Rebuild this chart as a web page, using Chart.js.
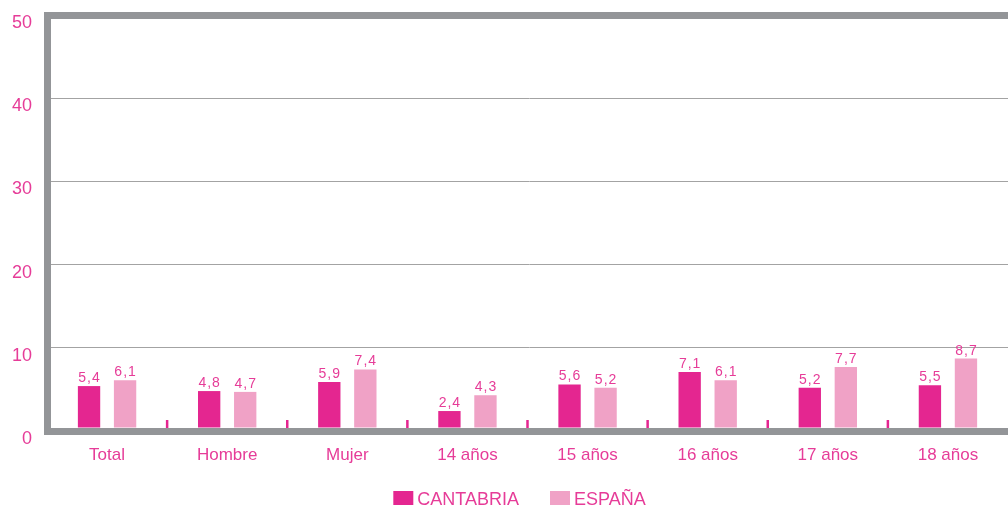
<!DOCTYPE html>
<html>
<head>
<meta charset="utf-8">
<script src="https://cdn.jsdelivr.net/npm/chart.js@4/dist/chart.umd.min.js"></script>
<style>
  html, body { margin: 0; padding: 0; background: #ffffff; }
  #wrap { width: 1008px; height: 506px; }
</style>
</head>
<body>
<div id="wrap"><canvas id="c" width="1008" height="506"></canvas></div>
<script>
const categories = ['Total', 'Hombre', 'Mujer', '14 años', '15 años', '16 años', '17 años', '18 años'];
const seriesNames = ['CANTABRIA', 'ESPAÑA'];
const cantabria = [5.4, 4.8, 5.9, 2.4, 5.6, 7.1, 5.2, 5.5];
const espana = [6.1, 4.7, 7.4, 4.3, 5.2, 6.1, 7.7, 8.7];
const yTicks = [0, 10, 20, 30, 40, 50];

const PINK_TEXT = '#E63C98';
const COL_CANT = '#E42690';
const COL_ESP = '#F0A2C6';
const GRAY = '#939598';
const FONT = 'Liberation Sans, Arial, sans-serif';

const fmt = v => v.toFixed(1).replace('.', ',');

const valueLabels = {
  id: 'valueLabels',
  afterDatasetsDraw(chart) {
    const ctx = chart.ctx;
    ctx.save();
    ctx.font = '14px ' + FONT;
    ctx.fillStyle = PINK_TEXT;
    ctx.textAlign = 'center';
    ctx.textBaseline = 'alphabetic';
    try { ctx.letterSpacing = '1px'; } catch (e) {}
    chart.data.datasets.forEach((ds, di) => {
      const meta = chart.getDatasetMeta(di);
      meta.data.forEach((bar, i) => {
        ctx.fillText(fmt(ds.data[i]), bar.x + 0.5, bar.y - 4);
      });
    });
    ctx.restore();
  }
};

const catTicks = {
  id: 'catTicks',
  beforeDatasetsDraw(chart) {
    const x = chart.scales.x;
    const ctx = chart.ctx;
    const bottom = chart.chartArea.bottom;
    ctx.save();
    ctx.strokeStyle = COL_CANT;
    ctx.lineWidth = 2.5;
    for (let i = 0; i < categories.length - 1; i++) {
      const px = (x.getPixelForValue(i) + x.getPixelForValue(i + 1)) / 2;
      ctx.beginPath();
      ctx.moveTo(px, bottom - 11);
      ctx.lineTo(px, bottom - 3);
      ctx.stroke();
    }
    ctx.restore();
  }
};

const customLegend = {
  id: 'customLegend',
  afterDraw(chart) {
    const ctx = chart.ctx;
    ctx.save();
    ctx.font = '18px ' + FONT;
    const boxW = 20, boxH = 14, textGap = 4, itemGap = 31;
    const items = chart.data.datasets.map(ds => ({
      label: ds.label, color: ds.backgroundColor, w: boxW + textGap + ctx.measureText(ds.label).width
    }));
    const total = items.reduce((s, it) => s + it.w, 0) + itemGap * (items.length - 1);
    const center = (chart.chartArea.left + chart.chartArea.right) / 2 - 8;
    let x = center - total / 2;
    const boxY = 491;
    items.forEach(it => {
      ctx.fillStyle = it.color;
      ctx.fillRect(x, boxY, boxW, boxH);
      ctx.fillStyle = PINK_TEXT;
      ctx.textAlign = 'left';
      ctx.textBaseline = 'alphabetic';
      ctx.fillText(it.label, x + boxW + textGap, 505);
      x += it.w + itemGap;
    });
    ctx.restore();
  }
};

new Chart(document.getElementById('c'), {
  type: 'bar',
  data: {
    labels: categories,
    datasets: [
      { label: seriesNames[0], data: cantabria, backgroundColor: COL_CANT, borderWidth: 0,
        categoryPercentage: 0.6, barPercentage: 0.62 },
      { label: seriesNames[1], data: espana, backgroundColor: COL_ESP, borderWidth: 0,
        categoryPercentage: 0.6, barPercentage: 0.62 }
    ]
  },
  options: {
    responsive: false,
    animation: false,
    layout: { padding: { top: 15, left: 0, right: 0, bottom: 0 } },
    plugins: {
      legend: { display: false },
      tooltip: { enabled: false }
    },
    scales: {
      x: {
        grid: { display: false },
        border: { display: true, width: 7, color: GRAY },
        ticks: {
          color: PINK_TEXT,
          font: { family: FONT, size: 17 },
          padding: 6,
          maxRotation: 0
        },
        afterFit(scale) { scale.height = 75; scale.paddingLeft = 0; scale.paddingRight = 0; }
      },
      y: {
        min: yTicks[0],
        max: yTicks[yTicks.length - 1],
        afterBuildTicks(scale) { scale.ticks = yTicks.map(v => ({ value: v })); },
        grid: {
          drawTicks: false,
          color: ctx => (ctx.tick && (ctx.tick.value === 0 || ctx.tick.value === 50)) ? GRAY : '#a3a3a3',
          lineWidth: ctx => (ctx.tick && (ctx.tick.value === 0 || ctx.tick.value === 50)) ? 7 : 1
        },
        border: { display: true, width: 7, color: GRAY },
        ticks: {
          color: PINK_TEXT,
          font: { family: FONT, size: 18 },
          padding: 15,
          labelOffset: 8
        },
        afterFit(scale) { scale.width = 47; scale.paddingTop = 0; scale.paddingBottom = 0; }
      }
    }
  },
  plugins: [catTicks, valueLabels, customLegend]
});
</script>
</body>
</html>
